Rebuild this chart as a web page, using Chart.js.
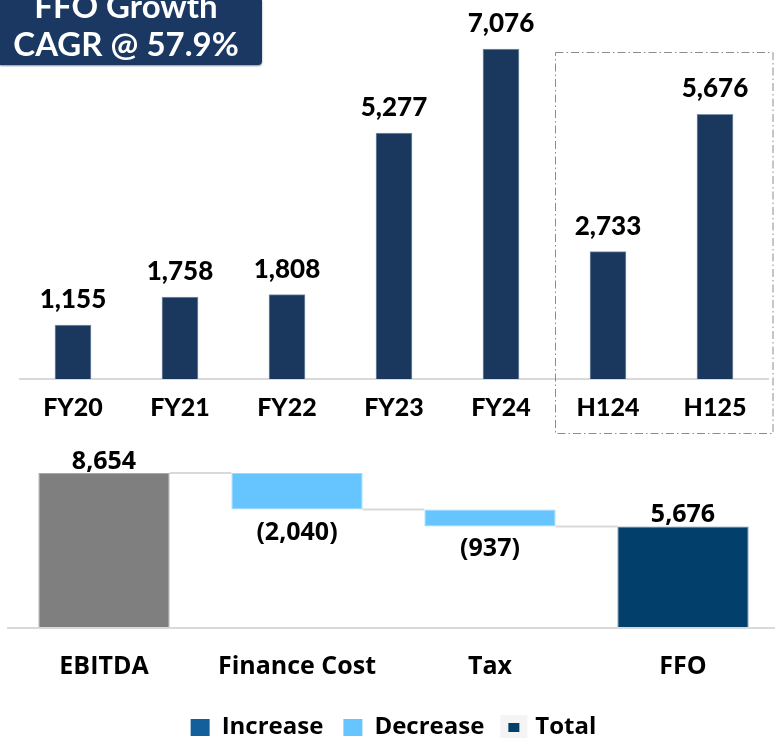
<!DOCTYPE html>
<html>
<head>
<meta charset="utf-8">
<script src="https://cdn.jsdelivr.net/npm/chart.js@4.4.1/dist/chart.umd.min.js"></script>
<style>
  html, body { margin: 0; padding: 0; background: #fff; }
  body { width: 775px; height: 738px; overflow: hidden; position: relative; }
  #growth { position: absolute; left: 0; top: 0; }
  #bridge { position: absolute; left: 0; top: 440px; }
  .badge {
    position: absolute; left: 0; top: 0; width: 262px; height: 65px;
    background: #1b3862; border-bottom-right-radius: 4px;
    box-shadow: 0 1px 2px rgba(0,0,0,0.45);
    color: #fff; font-family: Lato, sans-serif; font-weight: bold; font-size: 33px;
    overflow: hidden;
  }
  .badge div { position: absolute; left: 0; width: 252px; text-align: center; line-height: 38px; white-space: nowrap; }
</style>
</head>
<body>
<canvas id="growth" width="775" height="445"></canvas>
<canvas id="bridge" width="780" height="298"></canvas>
<div class="badge">
  <div style="top:-14px">FFO Growth</div>
  <div style="top:24px">CAGR @ 57.9%</div>
</div>
<script>
// FFO by period
const periods = ['FY20', 'FY21', 'FY22', 'FY23', 'FY24', 'H124', 'H125'];
const ffoValues = [1155, 1758, 1808, 5277, 7076, 2733, 5676];

// EBITDA to FFO bridge (H125)
const bridgeSteps = ['EBITDA', 'Finance Cost', 'Tax', 'FFO'];
const bridgeChanges = [8654, -2040, -937, 5676];
const bridgeKinds = ['start', 'decrease', 'decrease', 'total'];
const legendNames = ['Increase', 'Decrease', 'Total'];

const fmt = v => Math.abs(v).toLocaleString('en-US');

// ---------- top: FFO growth bars ----------
const growthDecor = {
  id: 'growthDecor',
  afterDatasetsDraw(chart) {
    const { ctx } = chart;
    const meta = chart.getDatasetMeta(0);
    ctx.save();
    ctx.font = '900 26px Lato';
    ctx.fillStyle = '#000';
    ctx.textAlign = 'center';
    ctx.textBaseline = 'alphabetic';
    meta.data.forEach((bar, i) => ctx.fillText(fmt(ffoValues[i]), bar.x, bar.y - 17));
    // dash-dot frame around the half-year periods
    const xs = chart.scales.x;
    const left = Math.round((xs.getPixelForValue(4) + xs.getPixelForValue(5)) / 2) + 0.5;
    ctx.setLineDash([8, 3, 1.5, 3]);
    ctx.strokeStyle = '#8c8c8c';
    ctx.lineWidth = 1;
    ctx.strokeRect(left, 52.5, 773 - left, 381);
    ctx.restore();
  }
};

new Chart(document.getElementById('growth'), {
  type: 'bar',
  data: {
    labels: periods,
    datasets: [{
      data: ffoValues,
      backgroundColor: '#1a375e',
      borderColor: '#7f93ad',
      borderWidth: { top: 1, left: 1, right: 1, bottom: 0 },
      barThickness: 36
    }]
  },
  options: {
    responsive: false,
    animation: false,
    events: [],
    layout: { padding: { left: 19.5, right: 6.5, top: 6, bottom: 0 } },
    plugins: { legend: { display: false }, tooltip: { enabled: false } },
    scales: {
      x: {
        grid: { display: false, drawTicks: false },
        border: { display: true, color: '#d9d9d9', width: 2 },
        ticks: { color: '#000', font: { family: 'Lato', weight: '900', size: 25 }, padding: 14 },
        afterFit(scale) { scale.height = 66; }
      },
      y: { display: false, min: 0, max: 8000 }
    }
  },
  plugins: [growthDecor]
});

// ---------- bottom: EBITDA to FFO waterfall ----------
let level = 0;
const bridgeRanges = bridgeChanges.map((v, i) => {
  if (bridgeKinds[i] === 'decrease') {
    const r = [level + v, level];
    level += v;
    return r;
  }
  level = v;
  return [0, v];
});
const kindColors = { start: '#7f7f7f', increase: '#135f9b', decrease: '#66c4ff', total: '#023f6b' };
const kindBorders = { start: '#a6a6a6', increase: '#4f86b5', decrease: '#9bd8ff', total: '#5f86a6' };
const legendColors = ['#135f9b', '#66c4ff', '#023f6b'];

const bridgeDecor = {
  id: 'bridgeDecor',
  beforeDatasetsDraw(chart) {
    const { ctx } = chart;
    const meta = chart.getDatasetMeta(0);
    const ys = chart.scales.y;
    ctx.save();
    ctx.strokeStyle = '#d9d9d9';
    ctx.lineWidth = 2;
    for (let i = 0; i < meta.data.length - 1; i++) {
      const a = meta.data[i], b = meta.data[i + 1];
      const r = bridgeRanges[i];
      const v = bridgeKinds[i] === 'decrease' ? r[0] : r[1];
      const y = ys.getPixelForValue(v);
      ctx.beginPath();
      ctx.moveTo(a.x + a.width / 2, y);
      ctx.lineTo(b.x - b.width / 2, y);
      ctx.stroke();
    }
    ctx.restore();
  },
  afterDatasetsDraw(chart) {
    const { ctx } = chart;
    const meta = chart.getDatasetMeta(0);
    const ys = chart.scales.y;
    ctx.save();
    ctx.font = 'bold 25px "Open Sans"';
    ctx.fillStyle = '#000';
    ctx.textAlign = 'center';
    ctx.textBaseline = 'alphabetic';
    meta.data.forEach((bar, i) => {
      const r = bridgeRanges[i];
      const v = bridgeChanges[i];
      if (bridgeKinds[i] === 'decrease') {
        ctx.fillText('(' + fmt(v) + ')', bar.x, ys.getPixelForValue(r[0]) + 30);
      } else {
        ctx.fillText(fmt(v), bar.x, ys.getPixelForValue(r[1]) - 4);
      }
    });
    ctx.restore();
  }
};

new Chart(document.getElementById('bridge'), {
  type: 'bar',
  data: {
    labels: bridgeSteps,
    datasets: [{
      data: bridgeRanges,
      backgroundColor: bridgeKinds.map(k => kindColors[k]),
      borderColor: bridgeKinds.map(k => kindBorders[k]),
      borderWidth: 1,
      borderSkipped: false,
      barPercentage: 0.68,
      categoryPercentage: 1
    }]
  },
  options: {
    responsive: false,
    animation: false,
    events: [],
    layout: { padding: { left: 7.5, right: 0.5, top: 9, bottom: 0 } },
    plugins: {
      tooltip: { enabled: false },
      legend: {
        display: true,
        position: 'bottom',
        onClick: null,
        maxHeight: 42.5,
        labels: {
          color: '#000',
          font: { family: 'Open Sans', weight: 'bold', size: 24 },
          boxWidth: 19,
          boxHeight: 17,
          padding: 20,
          generateLabels() {
            return legendNames.map((n, i) => ({
              text: n,
              fillStyle: legendColors[i],
              strokeStyle: i === 2 ? '#f4f4f4' : legendColors[i],
              lineWidth: i === 2 ? 8 : 0,
              hidden: false,
              datasetIndex: 0
            }));
          }
        }
      }
    },
    scales: {
      x: {
        grid: { display: false, drawTicks: false },
        border: { display: true, color: '#d9d9d9', width: 2, z: 1 },
        ticks: { color: '#000', font: { family: 'Open Sans', weight: 'bold', size: 25 }, padding: 24 },
        afterFit(scale) { scale.height = 67.5; }
      },
      y: { display: false, min: 0, max: 10000 }
    }
  },
  plugins: [bridgeDecor]
});
</script>
</body>
</html>
